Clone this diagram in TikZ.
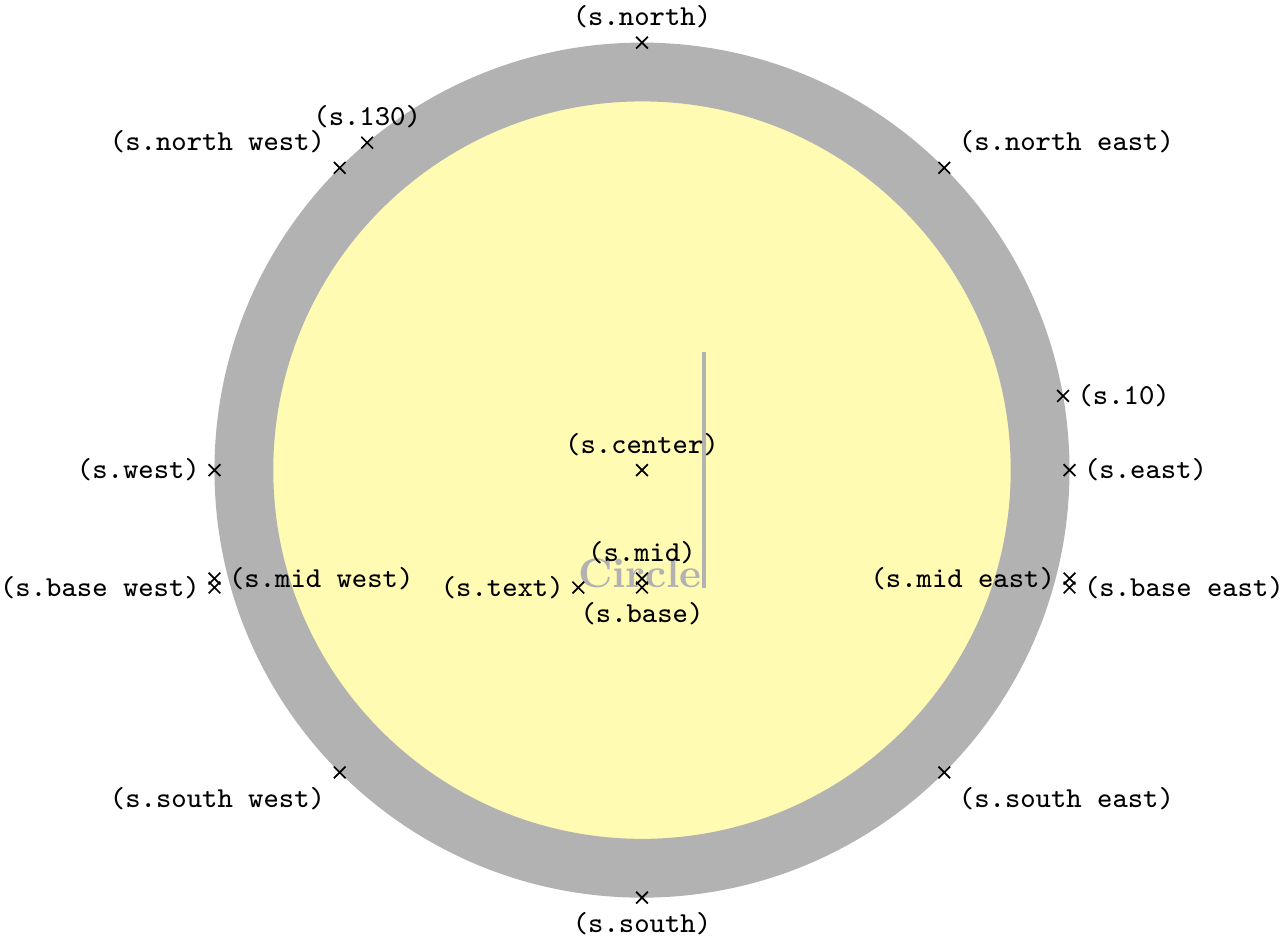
\documentclass[tikz,border=0pt]{standalone}
\usetikzlibrary{calc}
\tikzset{shape example/.style={
  color=black!30,
  draw,
  fill=yellow!30,
  line width=.5cm,
  inner xsep=2.5cm,
  inner ysep=0.5cm}
}
\begin{document}
\begin{tikzpicture}
  \node[name=s,shape=circle,shape example] {\bfseries Circle\vrule width 1pt height 2cm};
  \foreach \anchor/\placement in
    {north west/above left, north/above, north east/above right,
     west/left, center/above, east/right,
     mid west/right, mid/above, mid east/left,
     base west/left, base/below, base east/right,
     south west/below left, south/below, south east/below right,
     text/left, 10/right, 130/above}
     \draw[shift=(s.\anchor)] plot[mark=x] coordinates{(0,0)}
       node[\placement] (lbl-\anchor) {\scriptsize\texttt{(s.\anchor)}};
  \pgfresetboundingbox
  \path[use as bounding box]
    ($(lbl-base west.west |- lbl-north.north)+(3.5pt,-2.2pt)$)
    rectangle
    ($(lbl-base east.east |- lbl-south.south)+(-3.5pt,2.8pt)$);
\end{tikzpicture}
\end{document}
